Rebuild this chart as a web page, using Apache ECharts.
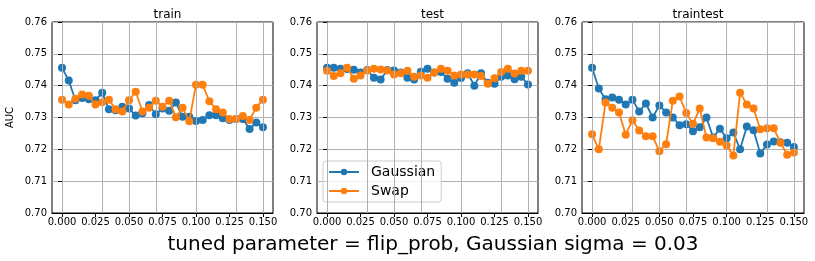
<!DOCTYPE html>
<html><head><meta charset="utf-8">
<script src="https://cdn.jsdelivr.net/npm/echarts@6/dist/echarts.min.js"></script>
<style>html,body{margin:0;padding:0;background:#fff}#c{width:815px;height:261px}</style>
</head><body><div id="c"></div>
<script>
const xValues = [0,0.005,0.01,0.015,0.02,0.025,0.03,0.035,0.04,0.045,0.05,0.055,0.06,0.065,0.07,0.075,0.08,0.085,0.09,0.095,0.1,0.105,0.11,0.115,0.12,0.125,0.13,0.135,0.14,0.145,0.15];
const xTicks = [0,0.025,0.05,0.075,0.1,0.125,0.15];
const panelTitles = ['train','test','traintest'];
const trainGaussian = [0.7456,0.7416,0.7354,0.7361,0.7357,0.7354,0.7378,0.7326,0.7323,0.7334,0.7328,0.7306,0.7313,0.7339,0.7310,0.7328,0.7321,0.7347,0.7302,0.7302,0.7289,0.7292,0.7307,0.7307,0.7298,0.7292,0.7295,0.7295,0.7264,0.7284,0.7269];
const trainSwap = [0.7356,0.7341,0.7359,0.7372,0.7368,0.7341,0.7348,0.7356,0.7326,0.7319,0.7354,0.7381,0.7319,0.7331,0.7353,0.7334,0.7353,0.7301,0.7331,0.7288,0.7403,0.7403,0.7351,0.7326,0.7316,0.7295,0.7295,0.7305,0.7292,0.7331,0.7356];
const testGaussian = [0.7456,0.7456,0.7453,0.7452,0.7450,0.7441,0.7449,0.7425,0.7419,0.7449,0.7448,0.7441,0.7425,0.7419,0.7444,0.7453,0.7441,0.7443,0.7422,0.7409,0.7424,0.7439,0.7400,0.7439,0.7409,0.7406,0.7428,0.7432,0.7420,0.7428,0.7404];
const testSwap = [0.7447,0.7430,0.7439,0.7456,0.7422,0.7432,0.7448,0.7453,0.7451,0.7448,0.7435,0.7439,0.7447,0.7428,0.7432,0.7425,0.7441,0.7453,0.7447,0.7432,0.7435,0.7435,0.7435,0.7430,0.7406,0.7423,0.7443,0.7453,0.7438,0.7447,0.7447];
const traintestGaussian = [0.7456,0.7391,0.7357,0.7363,0.7356,0.7341,0.7356,0.7319,0.7344,0.7300,0.7338,0.7316,0.7300,0.7276,0.7279,0.7257,0.7269,0.7300,0.7237,0.7265,0.7235,0.7253,0.7200,0.7272,0.7260,0.7187,0.7215,0.7225,0.7222,0.7221,0.7207];
const traintestSwap = [0.7247,0.7200,0.7347,0.7331,0.7316,0.7246,0.7291,0.7259,0.7241,0.7241,0.7194,0.7216,0.7353,0.7366,0.7314,0.7280,0.7328,0.7237,0.7235,0.7224,0.7212,0.7181,0.7378,0.7341,0.7328,0.7263,0.7266,0.7266,0.7221,0.7183,0.7190];
const seriesNames = ['Gaussian','Swap'];
const yAxisName = 'AUC';
const suptitle = 'tuned parameter = flip_prob, Gaussian sigma = 0.03';

const panels = [[trainGaussian, trainSwap],[testGaussian, testSwap],[traintestGaussian, traintestSwap]];
const colors = ['#1f77b4','#ff7f0e'];
const FONT = 'DejaVu Sans';
const grids = [{left:52,width:221},{left:317,width:221},{left:582,width:222}];
const chart = echarts.init(document.getElementById('c'));
const option = {
  animation:false,
  textStyle:{fontFamily:FONT},
  title: panelTitles.map((t,i)=>({text:t,left:grids[i].left+grids[i].width/2,top:4,textAlign:'center',textStyle:{fontFamily:FONT,fontSize:12,fontWeight:'normal',color:'#000'}}))
    .concat([{text:suptitle,left:428,top:230,textAlign:'center',textStyle:{fontFamily:FONT,fontSize:20,fontWeight:'normal',color:'#000'}}]),
  legend:{data:seriesNames,orient:'vertical',left:323,top:161,itemWidth:30,itemHeight:8,itemGap:5,padding:[4,6,4,5],
    backgroundColor:'rgba(255,255,255,0.8)',borderColor:'#ccc',borderWidth:1,borderRadius:3,
    textStyle:{fontFamily:FONT,fontSize:14,color:'#000',padding:[0,0,0,7]}},
  grid: grids.map(g=>({left:g.left,width:g.width,top:22,height:191,show:true,borderColor:'#000',borderWidth:1,containLabel:false})),
  xAxis: grids.map((g,i)=>({type:'value',gridIndex:i,min:-0.0075,max:0.1575,
    axisLine:{show:true,onZero:false,lineStyle:{color:'#000',width:1}},
    axisTick:{show:true,length:4,customValues:xTicks,lineStyle:{color:'#000'}},
    axisLabel:{customValues:xTicks,formatter:v=>v.toFixed(3),fontFamily:FONT,fontSize:10,color:'#000',margin:4},
    splitLine:{show:false}})),
  yAxis: grids.map((g,i)=>({type:'value',gridIndex:i,min:0.70,max:0.76,interval:0.01,
    name:i===0?yAxisName:'',nameLocation:'middle',nameGap:37,nameRotate:90,nameTextStyle:{fontFamily:FONT,fontSize:10,color:'#000'},
    axisLine:{show:true,lineStyle:{color:'#000',width:1}},
    axisTick:{show:true,length:4,lineStyle:{color:'#000'}},
    axisLabel:{formatter:v=>v.toFixed(2),fontFamily:FONT,fontSize:10,color:'#000',margin:5},
    splitLine:{show:true,lineStyle:{color:'#b0b0b0',width:1}}})),
  series: []
};
panels.forEach((p,i)=>{
  option.series.push({type:'line',xAxisIndex:i,yAxisIndex:i,data:[],z:1,silent:true,
    markLine:{silent:true,symbol:'none',label:{show:false},animation:false,
      lineStyle:{color:'#b0b0b0',width:1,type:'solid'},
      data:xTicks.map(v=>({xAxis:v}))}});
  p.forEach((vals,j)=>{
    option.series.push({name:seriesNames[j],type:'line',xAxisIndex:i,yAxisIndex:i,
      data:xValues.map((x,k)=>[x,vals[k]]),symbol:'circle',symbolSize:8,showSymbol:true,
      itemStyle:{color:colors[j]},lineStyle:{color:colors[j],width:1.8},z:2+j});
  });
});
chart.setOption(option);
</script></body></html>
